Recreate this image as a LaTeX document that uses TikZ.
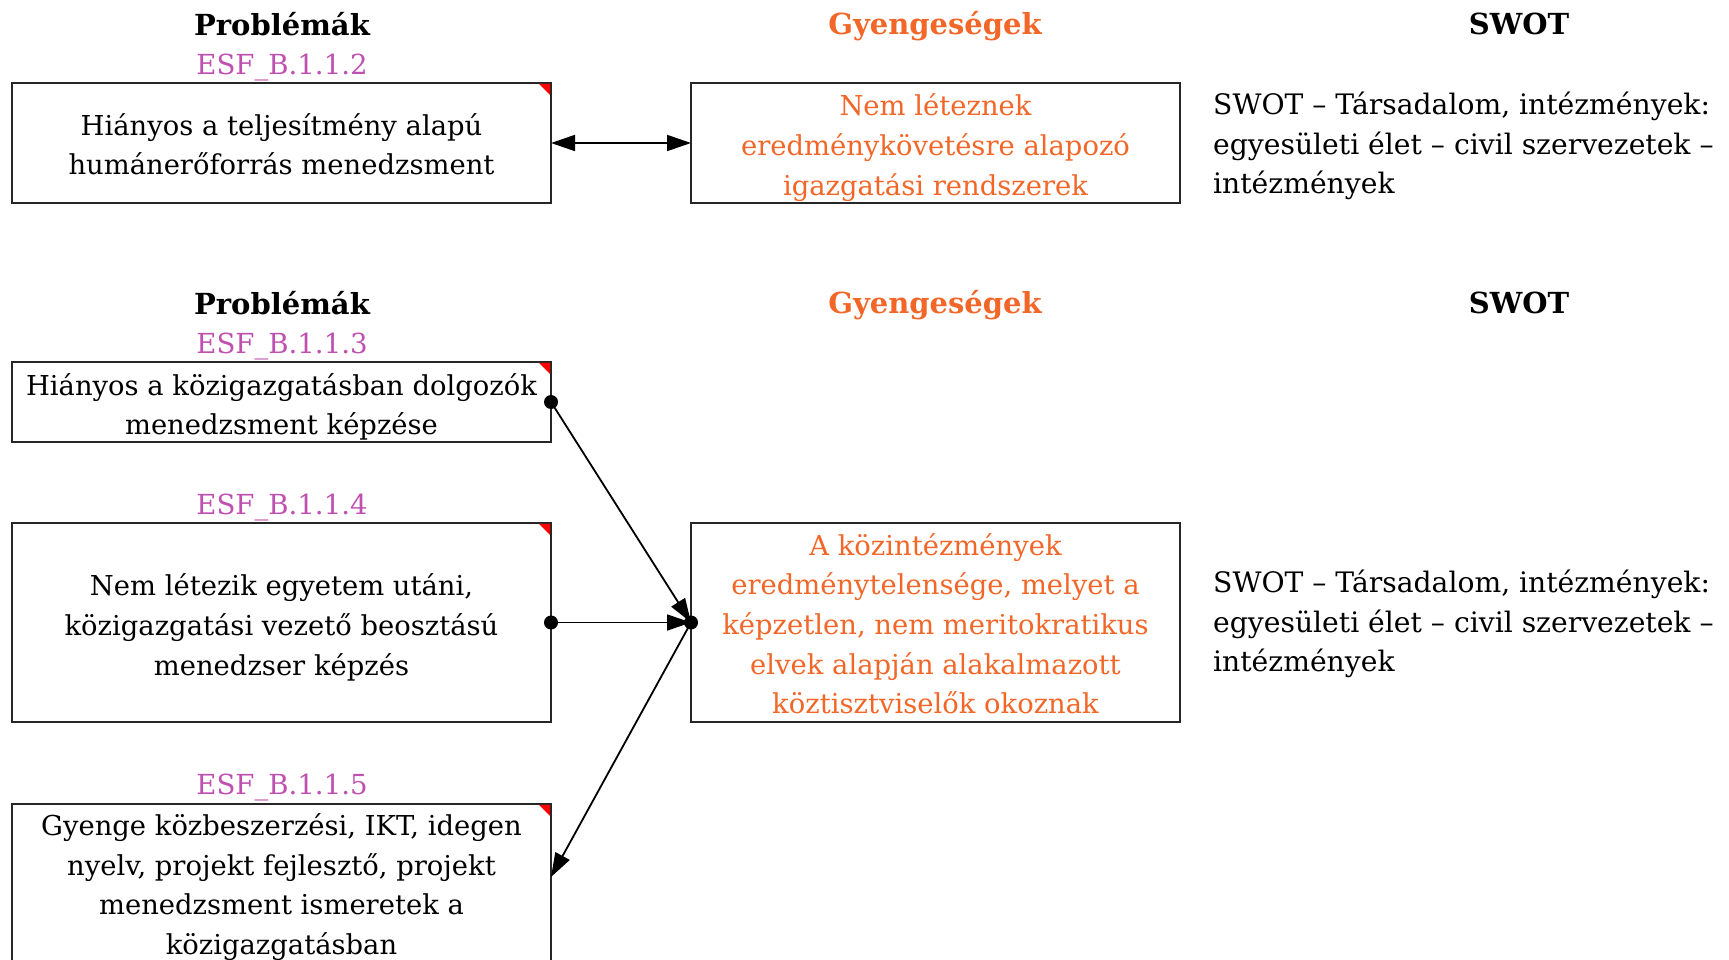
\documentclass[tikz,border=0pt]{standalone}
\usepackage{fontspec}
\setmainfont{DejaVu Serif}
\usetikzlibrary{arrows.meta,calc}
\definecolor{orng}{RGB}{242,102,40}
\definecolor{esfc}{RGB}{192,80,176}
\newcommand{\boxlines}[2][5pt]{\raisebox{-#1}[\height][\depth]{\begin{tabular}{@{}c@{}}#2\end{tabular}}}
\begin{document}
\begin{tikzpicture}[x=1pt,y=-1pt,
  box/.style={draw=black!85,line width=1.8pt,rectangle,inner sep=0pt,outer sep=0pt,
    font=\fontsize{27.4}{39.7}\selectfont},
  pbox/.style={box,minimum width=539pt},
  gbox/.style={box,minimum width=489pt,text=orng},
  head/.style={font=\fontsize{29}{32}\selectfont\bfseries,inner sep=0pt},
  esf/.style={font=\fontsize{27.6}{30}\selectfont,text=esfc,inner sep=0pt},
  swot/.style={font=\fontsize{28.2}{39.7}\selectfont,align=left,anchor=west,inner sep=0pt},
  conn/.style={line width=1.8pt,black},
  tip/.style={-{Triangle[length=24pt,width=16pt]}},
  dtip/.style={{Triangle[length=24pt,width=16pt]}-{Triangle[length=24pt,width=16pt]}}
]
\useasboundingbox (0,0) rectangle (1729,960);
\clip (0,0) rectangle (1729,960);
\fill[white] (0,0) rectangle (1729,960);

% headers
\node[head] (h1) at (282,24) {Problémák};
\node[head,text=orng] (h2) at (935,26) {Gyengeségek};
\node[head] (h3) at (1519,24) {SWOT};
\node[head] (h4) at (282,303) {Problémák};
\node[head,text=orng] (h5) at (935,305) {Gyengeségek};
\node[head] (h6) at (1519,303) {SWOT};

% ESF labels
\node[esf] (e1) at (282,68) {ESF\_B.1.1.2};
\node[esf] (e2) at (282,347) {ESF\_B.1.1.3};
\node[esf] (e3) at (282,508) {ESF\_B.1.1.4};
\node[esf] (e4) at (282,788) {ESF\_B.1.1.5};

% boxes
\node[pbox,minimum height=120pt] (p1) at (281.5,143) {\boxlines[4pt]{Hiányos a teljesítmény alapú\\humánerőforrás menedzsment}};
\node[gbox,minimum height=120pt] (g1) at (935.5,143) {\boxlines[4.5pt]{Nem léteznek\\eredménykövetésre alapozó\\igazgatási rendszerek}};
\node[pbox,minimum height=80pt] (p2) at (281.5,402) {\boxlines{Hiányos a közigazgatásban dolgozók\\menedzsment képzése}};
\node[pbox,minimum height=199pt] (p3) at (281.5,622.5) {\boxlines{Nem létezik egyetem utáni,\\közigazgatási vezető beosztású\\menedzser képzés}};
\node[gbox,minimum height=199pt] (g2) at (935.5,622.5) {\boxlines[4pt]{A közintézmények\\eredménytelensége, melyet a\\képzetlen, nem meritokratikus\\elvek alapján alakalmazott\\köztisztviselők okoznak}};
\node[pbox,minimum height=161pt] (p4) at (281.5,884.5) {\boxlines[2.5pt]{Gyenge közbeszerzési, IKT, idegen\\nyelv, projekt fejlesztő, projekt\\menedzsment ismeretek a\\közigazgatásban}};

% red corner marks
\foreach \b in {p1,p2,p3,p4}{
  \fill[red] ($(\b.north east)+(-0.9,0.9)$) -- ++(-11,0) -- ++(11,11) -- cycle;
}

% SWOT texts
\node[swot] (s1) at (1213,146) {SWOT – Társadalom, intézmények:\\egyesületi élet – civil szervezetek –\\intézmények};
\node[swot] (s2) at (1213,624) {SWOT – Társadalom, intézmények:\\egyesületi élet – civil szervezetek –\\intézmények};

% connectors
\coordinate (p4in) at ($(p4.east)+(0,-7.5)$);
\draw[conn,dtip] (p1.east) -- (g1.west);
\draw[conn,tip] (p2.east) -- (g2.west);
\draw[conn,tip] (p3.east) -- (g2.west);
\draw[conn,tip] (g2.west) -- (p4in);
\fill (p2.east) circle (7pt);
\fill (p3.east) circle (7pt);
\fill (g2.west) circle (7pt);
\end{tikzpicture}
\end{document}
